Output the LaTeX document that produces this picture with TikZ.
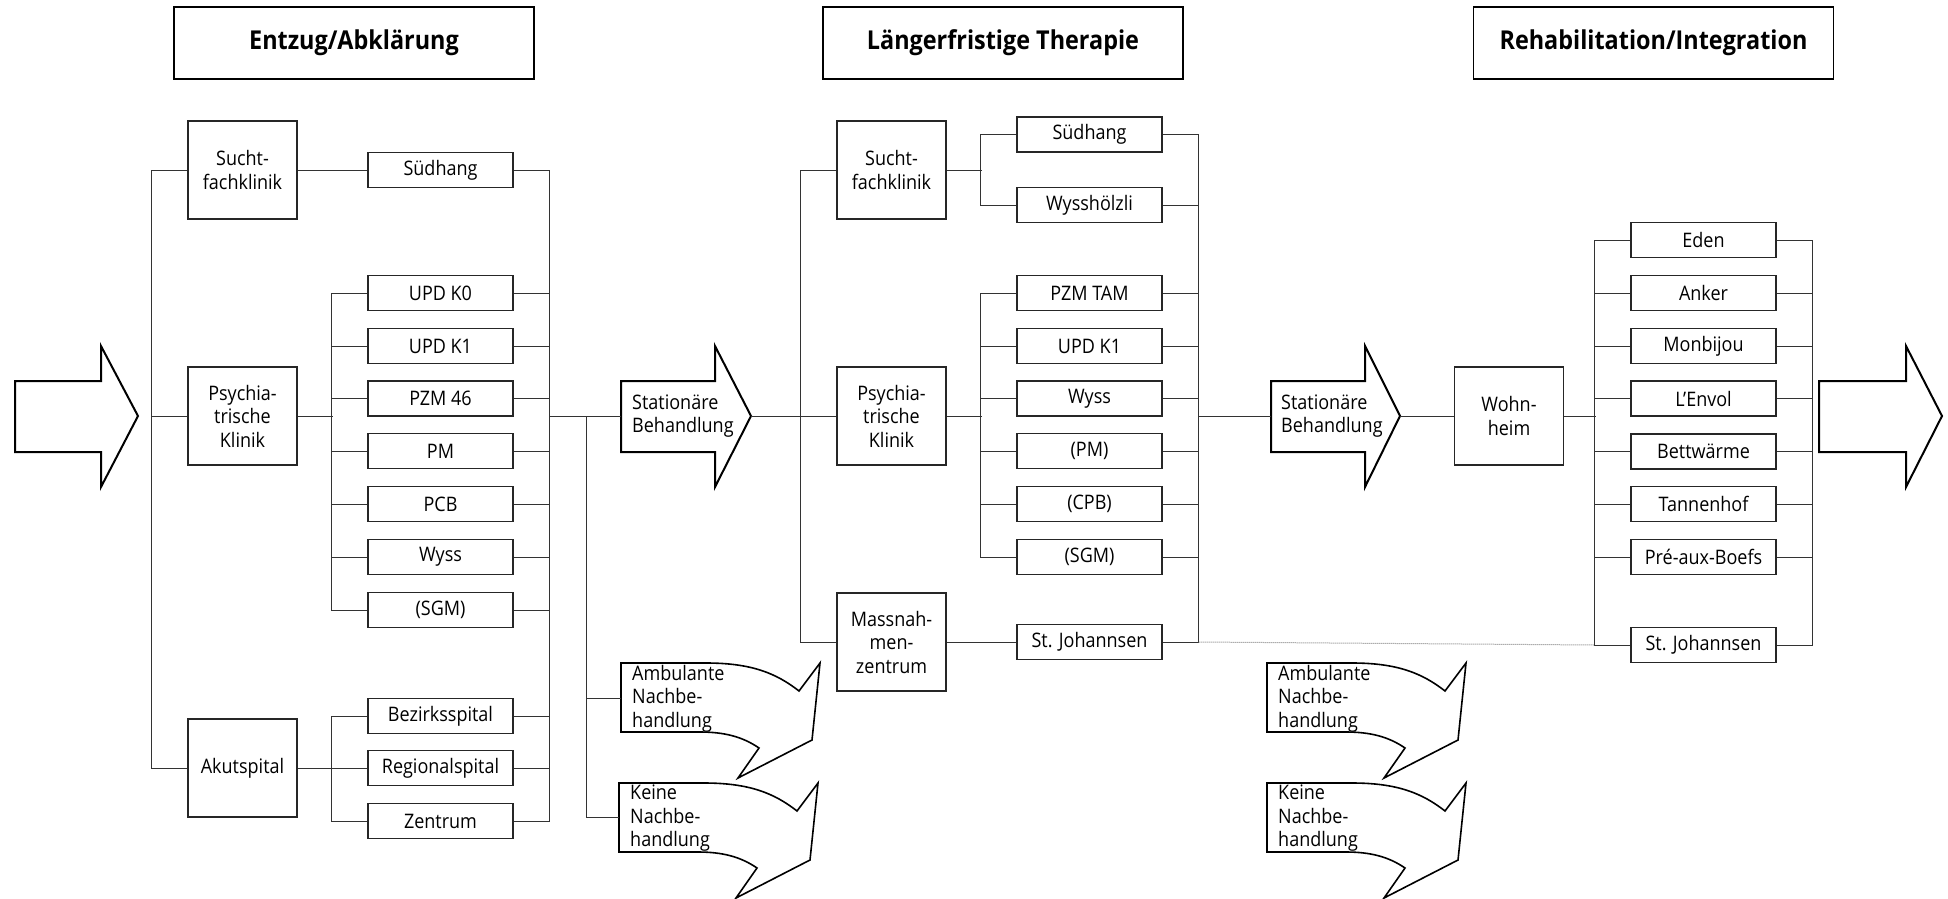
\documentclass[tikz,border=0pt]{standalone}
\usepackage{fontspec}
\setmainfont{Open Sans}[FakeStretch=0.9]
\usepackage{tikz}

\begin{document}
\begin{tikzpicture}[x=1pt,y=-1pt,
 font=\fontsize{20}{23.5}\selectfont,
 header/.style ={draw=black,line width=1.5pt,minimum width=360pt,minimum height=72pt,font=\fontsize{26}{30}\selectfont\bfseries},
 catbox/.style ={draw=black!85,line width=1.1pt,minimum width=109pt,minimum height=98pt,align=center,inner sep=0pt},
 unitbox/.style ={draw=black!85,line width=1.1pt,minimum width=145pt,minimum height=35pt,inner sep=0pt},
 link/.style ={-,draw=black!80,line width=1pt},
 faint/.style ={-,draw=gray,densely dotted,line width=1pt},
 blockarrow/.style ={draw=black,line width=2pt},
 callout/.style ={draw=black,line width=1.6pt},
 calltext/.style ={anchor=north west,align=left,inner sep=0pt}
 ]
\useasboundingbox (0,0) rectangle (1948,899);
%draw headers
\node[header] (h1) at (354,43) {Entzug/Abklärung};
\node[header] (h2) at (1003,43) {Längerfristige Therapie};
\node[header] (h3) at (1653.5,43) {Rehabilitation/Integration};

%draw entry arrow
\draw[blockarrow] (15,381) -- (101,381) -- (101,346) -- (138,416) -- (101,487) -- (101,452) -- (15,452) -- cycle;

%draw column 1: Entzug/Abklaerung
\node[catbox] (sf1) at (242.5,170) {Sucht-\\fachklinik};
\node[catbox] (ps1) at (242.5,416) {Psychia-\\trische\\Klinik};
\node[catbox] (ak1) at (242.5,768) {Akutspital};
\node[unitbox] (sud1) at (440.5,170) {Südhang};
\node[unitbox] (k01) at (440.5,293) {UPD K0};
\node[unitbox] (k11) at (440.5,346) {UPD K1};
\node[unitbox] (pzm1) at (440.5,398.5) {PZM 46};
\node[unitbox] (pm1) at (440.5,451) {PM};
\node[unitbox] (pcb1) at (440.5,504) {PCB};
\node[unitbox] (wys1) at (440.5,557) {Wyss};
\node[unitbox] (sgm1) at (440.5,610) {(SGM)};
\node[unitbox] (bez1) at (440.5,716) {Bezirksspital};
\node[unitbox] (reg1) at (440.5,768) {Regionalspital};
\node[unitbox] (zen1) at (440.5,821) {Zentrum};
%draw busses of column 1
\draw[link] (sf1.west) -- ++(-36,0) |- (ak1.west);
\draw[link] (ps1.west) -- ++(-36,0);
\draw[link] (sf1.east) -- (sud1.west);
\draw[link] (ps1.east) -- ++(35,0);
\draw[link] (k01.west) -- ++(-36,0) |- (sgm1.west);
\foreach \n in {k11,pzm1,pm1,pcb1,wys1}
  \draw[link] (\n.west) -- ++(-36,0);
\draw[link] (ak1.east) -- (reg1.west);
\draw[link] (bez1.west) -- ++(-36,0) |- (zen1.west);
\draw[link] (sud1.east) -- ++(36,0) |- (zen1.east);
\foreach \n in {k01,k11,pzm1,pm1,pcb1,wys1,sgm1,bez1,reg1}
  \draw[link] (\n.east) -- ++(36,0);

%draw first Stationaere Behandlung arrow
\draw[blockarrow] (621,381) -- (715,381) -- (715,346) -- (751,416) -- (715,487) -- (715,452) -- (621,452) -- cycle;
\coordinate (stat1tail) at (621,416);
\coordinate (stat1tip) at (751,416);
\node[calltext,anchor=west] (stat1) at (632,416) {Stationäre\\Behandlung};
\draw[link] (stat1tail) -- ++(-72,0);
%draw Nachbehandlung arrows
\foreach \x/\y in {621/663,619/783,1267/663,1267/783}
  \draw[callout,shift={(\x,\y)}] (0,0) -- (85,0) .. controls (130,0) and (155,10) .. (178,28)
    -- (199,0) -- (191,77) -- (117,115) -- (138,85) .. controls (122,74) and (104,69) .. (79,69)
    -- (0,69) -- cycle;
\node[calltext] (amb1) at (632,665) {Ambulante\\Nachbe-\\handlung};
\node[calltext] (kei1) at (630,785) {Keine\\Nachbe-\\handlung};
\node[calltext] (amb2) at (1278,665) {Ambulante\\Nachbe-\\handlung};
\node[calltext] (kei2) at (1278,785) {Keine\\Nachbe-\\handlung};
\coordinate (fork1) at (586,416);
\coordinate (amb1in) at (621,698);
\coordinate (kei1in) at (619,817);
\draw[link] (fork1) |- (kei1in);
\draw[link] (fork1 |- amb1in) -- (amb1in);

%draw column 2: Laengerfristige Therapie
\node[catbox] (sf2) at (891.5,170) {Sucht-\\fachklinik};
\node[catbox] (ps2) at (891.5,416) {Psychia-\\trische\\Klinik};
\node[catbox] (mz2) at (891.5,642) {Massnah-\\men-\\zentrum};
\node[unitbox] (sud2) at (1089.5,134.5) {Südhang};
\node[unitbox] (wyh2) at (1089.5,205) {Wysshölzli};
\node[unitbox] (tam2) at (1089.5,293) {PZM TAM};
\node[unitbox] (k12) at (1089.5,346) {UPD K1};
\node[unitbox] (wys2) at (1089.5,398.5) {Wyss};
\node[unitbox] (pm2) at (1089.5,451) {(PM)};
\node[unitbox] (cpb2) at (1089.5,504) {(CPB)};
\node[unitbox] (sgm2) at (1089.5,557) {(SGM)};
\node[unitbox] (joh2) at (1089.5,642) {St. Johannsen};
%draw busses of column 2
\draw[link] (stat1tip) -- (ps2.west);
\draw[link] (sf2.west) -- ++(-36,0) |- (mz2.west);
\draw[link] (sf2.east) -- ++(35,0);
\draw[link] (sud2.west) -- ++(-36,0) |- (wyh2.west);
\draw[link] (ps2.east) -- ++(35,0);
\draw[link] (tam2.west) -- ++(-36,0) |- (sgm2.west);
\foreach \n in {k12,wys2,pm2,cpb2}
  \draw[link] (\n.west) -- ++(-36,0);
\draw[link] (mz2.east) -- (joh2.west);
\draw[link] (sud2.east) -- ++(36,0) |- (joh2.east);
\foreach \n in {wyh2,tam2,k12,wys2,pm2,cpb2,sgm2}
  \draw[link] (\n.east) -- ++(36,0);

%draw second Stationaere Behandlung arrow
\draw[blockarrow] (1271,381) -- (1365,381) -- (1365,346) -- (1400,416) -- (1365,487) -- (1365,452) -- (1271,452) -- cycle;
\coordinate (stat2tail) at (1271,416);
\coordinate (stat2tip) at (1400,416);
\node[calltext,anchor=west] (stat2) at (1281,416) {Stationäre\\Behandlung};
\draw[link] (stat2tail) -- ++(-73,0);

%draw column 3: Rehabilitation/Integration
\node[catbox] (wh3) at (1509,416) {Wohn-\\heim};
\node[unitbox] (ede3) at (1703.5,240) {Eden};
\node[unitbox] (ank3) at (1703.5,293) {Anker};
\node[unitbox] (mon3) at (1703.5,346) {Monbijou};
\node[unitbox] (env3) at (1703.5,398.5) {L'Envol};
\node[unitbox] (bet3) at (1703.5,451.5) {Bettwärme};
\node[unitbox] (tan3) at (1703.5,504) {Tannenhof};
\node[unitbox] (pre3) at (1703.5,557) {Pré-aux-Boefs};
\node[unitbox] (joh3) at (1703.5,645) {St. Johannsen};
%draw busses of column 3
\draw[link] (stat2tip) -- (wh3.west);
\draw[link] (wh3.east) -- ++(32,0);
\draw[link] (ede3.west) -- ++(-36,0) |- (joh3.west);
\draw[link] (ede3.east) -- ++(36,0) |- (joh3.east);
\foreach \n in {ank3,mon3,env3,bet3,tan3,pre3}
  \draw[link] (\n.west) -- ++(-36,0) (\n.east) -- ++(36,0);
%draw transfer St. Johannsen
\draw[faint] ([xshift=36pt]joh2.east) -- ([xshift=-36pt]joh3.west);

%draw exit arrow
\draw[blockarrow] (1819,381) -- (1906,381) -- (1906,346) -- (1942,416) -- (1906,487) -- (1906,452) -- (1819,452) -- cycle;
\end{tikzpicture}
\end{document}
